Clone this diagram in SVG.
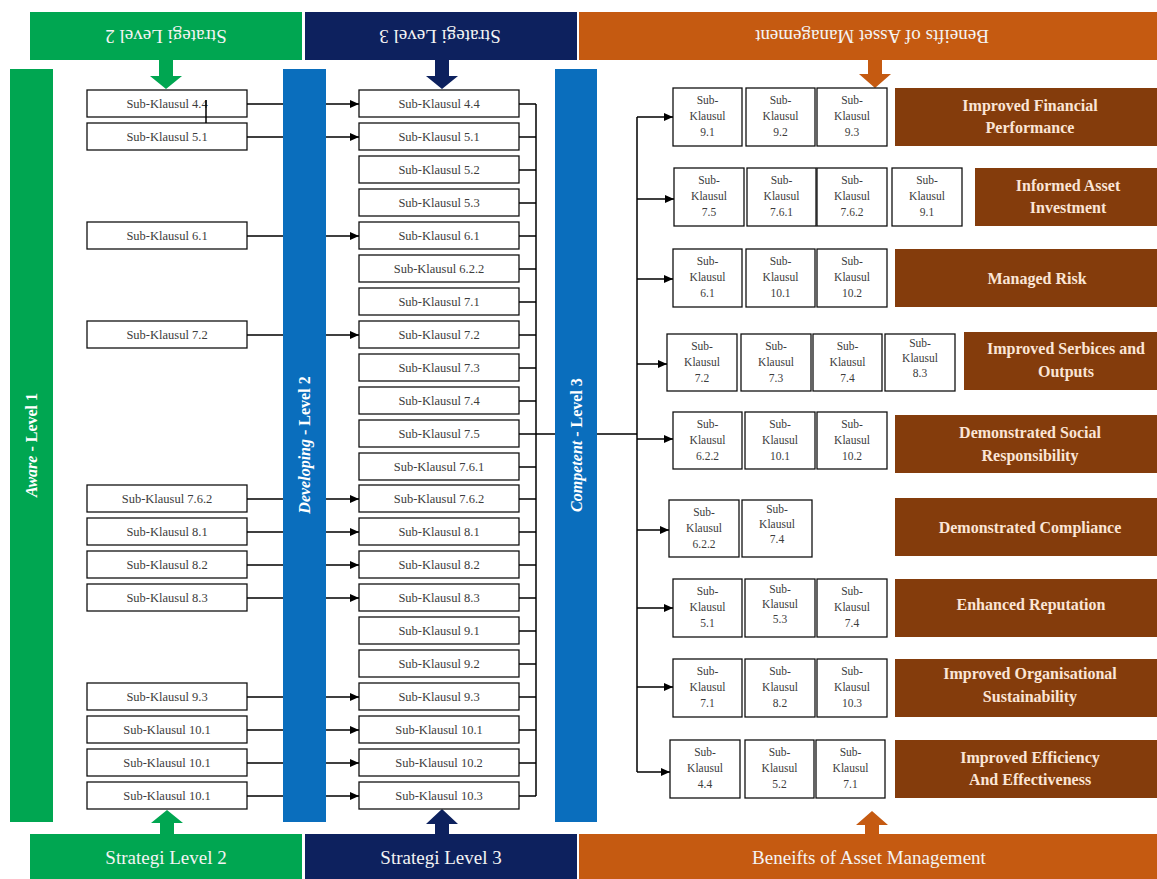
<svg xmlns="http://www.w3.org/2000/svg" width="1157" height="879" viewBox="0 0 1157 879">
  <defs>
    <style>
      .box{fill:#fff;stroke:#111;stroke-width:1.3}
      .bt{font-family:"Liberation Serif","Times New Roman",serif;font-size:12.5px;fill:#3c3c3c;text-anchor:middle}
      .st{font-family:"Liberation Serif","Times New Roman",serif;font-size:11.5px;fill:#3c3c3c;text-anchor:middle}
      .bar{font-family:"Liberation Serif","Times New Roman",serif;font-size:16px;font-weight:bold;fill:#fff;text-anchor:middle}
      .hd{font-family:"Liberation Serif","Times New Roman",serif;font-size:19px;fill:#f4f4f4;text-anchor:middle}
      .bn{fill:#843c0c}
      .bnt{font-family:"Liberation Serif","Times New Roman",serif;font-size:16px;font-weight:bold;fill:#fbe5d6;text-anchor:middle}
      .ln{stroke:#000;stroke-width:1.5;fill:none}
      .arr{stroke:#000;stroke-width:1.5;fill:none;marker-end:url(#ah)}
    </style>
    <marker id="ah" markerWidth="9" markerHeight="8" refX="9" refY="4" orient="auto" markerUnits="userSpaceOnUse">
      <path d="M0,0 L9,4 L0,8 Z" fill="#000"/>
    </marker>
  </defs>
  <rect width="1157" height="879" fill="#fff"/>

  <!-- top headers (text printed upside down) -->
  <g id="hdr-top-l2">
    <rect x="30" y="12" width="272" height="48" fill="#00a651"/>
    <text class="hd" transform="translate(166,36) rotate(180)" y="6.5">Strategi Level 2</text>
    <path d="M159,60 H173 V76 H182 L166,89 L150,76 H159 Z" fill="#00a651"/>
  </g>
  <g id="hdr-top-l3">
    <rect x="305" y="12" width="272" height="48" fill="#0d215e"/>
    <text class="hd" transform="translate(440,36) rotate(180)" y="6.5">Strategi Level 3</text>
    <path d="M435,60 H449 V76 H458 L442,89 L426,76 H435 Z" fill="#0d215e"/>
  </g>
  <g id="hdr-top-benefit">
    <rect x="579" y="12" width="578" height="48" fill="#c55a11"/>
    <text class="hd" transform="translate(872,36) rotate(180)" y="6.5">Beneifts of Asset Management</text>
    <path d="M868,60 H882 V74 H891 L875,88 L859,74 H868 Z" fill="#c55a11"/>
  </g>

  <!-- bottom headers -->
  <g id="hdr-bot-l2">
    <rect x="30" y="834" width="272" height="45" fill="#00a651"/>
    <text class="hd" x="166" y="864">Strategi Level 2</text>
    <path d="M160,835 V823 H151 L167,810 L183,823 H174 V835 Z" fill="#00a651"/>
  </g>
  <g id="hdr-bot-l3">
    <rect x="305" y="834" width="272" height="45" fill="#0d215e"/>
    <text class="hd" x="441" y="864">Strategi Level 3</text>
    <path d="M435,835 V824 H426 L442,809 L458,824 H449 V835 Z" fill="#0d215e"/>
  </g>
  <g id="hdr-bot-benefit">
    <rect x="579" y="834" width="578" height="45" fill="#c55a11"/>
    <text class="hd" x="869" y="864">Beneifts of Asset Management</text>
    <path d="M865,835 V825 H856 L872,811 L888,825 H879 V835 Z" fill="#c55a11"/>
  </g>

  <!-- level bars -->
  <g id="bar-aware">
    <rect x="10" y="69" width="43" height="753" fill="#00a651"/>
    <text class="bar" transform="translate(31.5,445) rotate(-90)" y="5.5"><tspan font-style="italic">Aware</tspan> - Level 1</text>
  </g>
  <g id="bar-developing">
    <rect x="283" y="69" width="43" height="753" fill="#0a6ebd"/>
    <text class="bar" transform="translate(304.5,445) rotate(-90)" y="5.5"><tspan font-style="italic">Developing</tspan> - Level 2</text>
  </g>
  <g id="bar-competent">
    <rect x="555" y="69" width="42" height="753" fill="#0a6ebd"/>
    <text class="bar" transform="translate(576,445) rotate(-90)" y="5.5"><tspan font-style="italic">Competent</tspan> - Level 3</text>
  </g>

  <!-- level 2 clauses -->
  <g id="l2-4-4"><rect class="box" x="87" y="90" width="160" height="27"/><text class="bt" x="167" y="108">Sub-Klausul 4.4</text></g>
  <g id="l2-5-1"><rect class="box" x="87" y="123" width="160" height="27"/><text class="bt" x="167" y="141">Sub-Klausul 5.1</text></g>
  <g id="l2-6-1"><rect class="box" x="87" y="222" width="160" height="27"/><text class="bt" x="167" y="240">Sub-Klausul 6.1</text></g>
  <g id="l2-7-2"><rect class="box" x="87" y="321" width="160" height="27"/><text class="bt" x="167" y="339">Sub-Klausul 7.2</text></g>
  <g id="l2-7-6-2"><rect class="box" x="87" y="485" width="160" height="27"/><text class="bt" x="167" y="503">Sub-Klausul 7.6.2</text></g>
  <g id="l2-8-1"><rect class="box" x="87" y="518" width="160" height="27"/><text class="bt" x="167" y="536">Sub-Klausul 8.1</text></g>
  <g id="l2-8-2"><rect class="box" x="87" y="551" width="160" height="27"/><text class="bt" x="167" y="569">Sub-Klausul 8.2</text></g>
  <g id="l2-8-3"><rect class="box" x="87" y="584" width="160" height="27"/><text class="bt" x="167" y="602">Sub-Klausul 8.3</text></g>
  <g id="l2-9-3"><rect class="box" x="87" y="683" width="160" height="27"/><text class="bt" x="167" y="701">Sub-Klausul 9.3</text></g>
  <g id="l2-10-1a"><rect class="box" x="87" y="716" width="160" height="27"/><text class="bt" x="167" y="734">Sub-Klausul 10.1</text></g>
  <g id="l2-10-1b"><rect class="box" x="87" y="749" width="160" height="27"/><text class="bt" x="167" y="767">Sub-Klausul 10.1</text></g>
  <g id="l2-10-1c"><rect class="box" x="87" y="782" width="160" height="27"/><text class="bt" x="167" y="800">Sub-Klausul 10.1</text></g>

  <!-- level 3 clauses -->
  <g id="l3-4-4"><rect class="box" x="359" y="90" width="160" height="27"/><text class="bt" x="439" y="108">Sub-Klausul 4.4</text></g>
  <g id="l3-5-1"><rect class="box" x="359" y="123" width="160" height="27"/><text class="bt" x="439" y="141">Sub-Klausul 5.1</text></g>
  <g id="l3-5-2"><rect class="box" x="359" y="156" width="160" height="27"/><text class="bt" x="439" y="174">Sub-Klausul 5.2</text></g>
  <g id="l3-5-3"><rect class="box" x="359" y="189" width="160" height="27"/><text class="bt" x="439" y="207">Sub-Klausul 5.3</text></g>
  <g id="l3-6-1"><rect class="box" x="359" y="222" width="160" height="27"/><text class="bt" x="439" y="240">Sub-Klausul 6.1</text></g>
  <g id="l3-6-2-2"><rect class="box" x="359" y="255" width="160" height="27"/><text class="bt" x="439" y="273">Sub-Klausul 6.2.2</text></g>
  <g id="l3-7-1"><rect class="box" x="359" y="288" width="160" height="27"/><text class="bt" x="439" y="306">Sub-Klausul 7.1</text></g>
  <g id="l3-7-2"><rect class="box" x="359" y="321" width="160" height="27"/><text class="bt" x="439" y="339">Sub-Klausul 7.2</text></g>
  <g id="l3-7-3"><rect class="box" x="359" y="354" width="160" height="27"/><text class="bt" x="439" y="372">Sub-Klausul 7.3</text></g>
  <g id="l3-7-4"><rect class="box" x="359" y="387" width="160" height="27"/><text class="bt" x="439" y="405">Sub-Klausul 7.4</text></g>
  <g id="l3-7-5"><rect class="box" x="359" y="420" width="160" height="27"/><text class="bt" x="439" y="438">Sub-Klausul 7.5</text></g>
  <g id="l3-7-6-1"><rect class="box" x="359" y="453" width="160" height="27"/><text class="bt" x="439" y="471">Sub-Klausul 7.6.1</text></g>
  <g id="l3-7-6-2"><rect class="box" x="359" y="485" width="160" height="27"/><text class="bt" x="439" y="503">Sub-Klausul 7.6.2</text></g>
  <g id="l3-8-1"><rect class="box" x="359" y="518" width="160" height="27"/><text class="bt" x="439" y="536">Sub-Klausul 8.1</text></g>
  <g id="l3-8-2"><rect class="box" x="359" y="551" width="160" height="27"/><text class="bt" x="439" y="569">Sub-Klausul 8.2</text></g>
  <g id="l3-8-3"><rect class="box" x="359" y="584" width="160" height="27"/><text class="bt" x="439" y="602">Sub-Klausul 8.3</text></g>
  <g id="l3-9-1"><rect class="box" x="359" y="617" width="160" height="27"/><text class="bt" x="439" y="635">Sub-Klausul 9.1</text></g>
  <g id="l3-9-2"><rect class="box" x="359" y="650" width="160" height="27"/><text class="bt" x="439" y="668">Sub-Klausul 9.2</text></g>
  <g id="l3-9-3"><rect class="box" x="359" y="683" width="160" height="27"/><text class="bt" x="439" y="701">Sub-Klausul 9.3</text></g>
  <g id="l3-10-1"><rect class="box" x="359" y="716" width="160" height="27"/><text class="bt" x="439" y="734">Sub-Klausul 10.1</text></g>
  <g id="l3-10-2"><rect class="box" x="359" y="749" width="160" height="27"/><text class="bt" x="439" y="767">Sub-Klausul 10.2</text></g>
  <g id="l3-10-3"><rect class="box" x="359" y="782" width="160" height="27"/><text class="bt" x="439" y="800">Sub-Klausul 10.3</text></g>

  <!-- benefit rows: clause chips + benefit label -->
  <g id="ben-financial">
    <rect class="box" x="673" y="88" width="69" height="58"/><text class="st" x="707.5" y="104">Sub-</text><text class="st" x="707.5" y="120">Klausul</text><text class="st" x="707.5" y="136">9.1</text>
    <rect class="box" x="746" y="88" width="69" height="58"/><text class="st" x="780.5" y="104">Sub-</text><text class="st" x="780.5" y="120">Klausul</text><text class="st" x="780.5" y="136">9.2</text>
    <rect class="box" x="817" y="88" width="70" height="58"/><text class="st" x="852" y="104">Sub-</text><text class="st" x="852" y="120">Klausul</text><text class="st" x="852" y="136">9.3</text>
    <rect class="bn" x="895" y="88" width="262" height="58"/>
    <text class="bnt" x="1030" y="111">Improved Financial</text><text class="bnt" x="1030" y="133">Performance</text>
  </g>
  <g id="ben-investment">
    <rect class="box" x="674" y="168" width="70" height="58"/><text class="st" x="709" y="184">Sub-</text><text class="st" x="709" y="200">Klausul</text><text class="st" x="709" y="216">7.5</text>
    <rect class="box" x="747" y="168" width="69" height="58"/><text class="st" x="781.5" y="184">Sub-</text><text class="st" x="781.5" y="200">Klausul</text><text class="st" x="781.5" y="216">7.6.1</text>
    <rect class="box" x="817" y="168" width="70" height="58"/><text class="st" x="852" y="184">Sub-</text><text class="st" x="852" y="200">Klausul</text><text class="st" x="852" y="216">7.6.2</text>
    <rect class="box" x="892" y="168" width="70" height="58"/><text class="st" x="927" y="184">Sub-</text><text class="st" x="927" y="200">Klausul</text><text class="st" x="927" y="216">9.1</text>
    <rect class="bn" x="975" y="168" width="182" height="58"/>
    <text class="bnt" x="1068" y="191">Informed Asset</text><text class="bnt" x="1068" y="213">Investment</text>
  </g>
  <g id="ben-risk">
    <rect class="box" x="673" y="249" width="69" height="58"/><text class="st" x="707.5" y="265">Sub-</text><text class="st" x="707.5" y="281">Klausul</text><text class="st" x="707.5" y="297">6.1</text>
    <rect class="box" x="746" y="249" width="69" height="58"/><text class="st" x="780.5" y="265">Sub-</text><text class="st" x="780.5" y="281">Klausul</text><text class="st" x="780.5" y="297">10.1</text>
    <rect class="box" x="817" y="249" width="70" height="58"/><text class="st" x="852" y="265">Sub-</text><text class="st" x="852" y="281">Klausul</text><text class="st" x="852" y="297">10.2</text>
    <rect class="bn" x="895" y="249" width="262" height="58"/>
    <text class="bnt" x="1037" y="284">Managed Risk</text>
  </g>
  <g id="ben-services">
    <rect class="box" x="667" y="334" width="70" height="57"/><text class="st" x="702" y="350">Sub-</text><text class="st" x="702" y="366">Klausul</text><text class="st" x="702" y="382">7.2</text>
    <rect class="box" x="741" y="334" width="70" height="57"/><text class="st" x="776" y="350">Sub-</text><text class="st" x="776" y="366">Klausul</text><text class="st" x="776" y="382">7.3</text>
    <rect class="box" x="813" y="334" width="69" height="57"/><text class="st" x="847.5" y="350">Sub-</text><text class="st" x="847.5" y="366">Klausul</text><text class="st" x="847.5" y="382">7.4</text>
    <rect class="box" x="885" y="334" width="70" height="57"/><text class="st" x="920" y="347">Sub-</text><text class="st" x="920" y="362">Klausul</text><text class="st" x="920" y="377">8.3</text>
    <rect class="bn" x="964" y="332" width="193" height="58"/>
    <text class="bnt" x="1066" y="354">Improved Serbices and</text><text class="bnt" x="1066" y="377">Outputs</text>
  </g>
  <g id="ben-social">
    <rect class="box" x="673" y="412" width="69" height="57"/><text class="st" x="707.5" y="428">Sub-</text><text class="st" x="707.5" y="444">Klausul</text><text class="st" x="707.5" y="460">6.2.2</text>
    <rect class="box" x="745" y="412" width="70" height="57"/><text class="st" x="780" y="428">Sub-</text><text class="st" x="780" y="444">Klausul</text><text class="st" x="780" y="460">10.1</text>
    <rect class="box" x="817" y="412" width="70" height="57"/><text class="st" x="852" y="428">Sub-</text><text class="st" x="852" y="444">Klausul</text><text class="st" x="852" y="460">10.2</text>
    <rect class="bn" x="895" y="415" width="262" height="58"/>
    <text class="bnt" x="1030" y="438">Demonstrated Social</text><text class="bnt" x="1030" y="461">Responsibility</text>
  </g>
  <g id="ben-compliance">
    <rect class="box" x="669" y="500" width="70" height="57"/><text class="st" x="704" y="516">Sub-</text><text class="st" x="704" y="532">Klausul</text><text class="st" x="704" y="548">6.2.2</text>
    <rect class="box" x="742" y="500" width="70" height="57"/><text class="st" x="777" y="513">Sub-</text><text class="st" x="777" y="528">Klausul</text><text class="st" x="777" y="543">7.4</text>
    <rect class="bn" x="895" y="498" width="262" height="58"/>
    <text class="bnt" x="1030" y="533">Demonstrated Compliance</text>
  </g>
  <g id="ben-reputation">
    <rect class="box" x="673" y="579" width="69" height="58"/><text class="st" x="707.5" y="595">Sub-</text><text class="st" x="707.5" y="611">Klausul</text><text class="st" x="707.5" y="627">5.1</text>
    <rect class="box" x="745" y="579" width="70" height="58"/><text class="st" x="780" y="593">Sub-</text><text class="st" x="780" y="608">Klausul</text><text class="st" x="780" y="623">5.3</text>
    <rect class="box" x="817" y="579" width="70" height="58"/><text class="st" x="852" y="595">Sub-</text><text class="st" x="852" y="611">Klausul</text><text class="st" x="852" y="627">7.4</text>
    <rect class="bn" x="895" y="579" width="262" height="58"/>
    <text class="bnt" x="1031" y="610">Enhanced Reputation</text>
  </g>
  <g id="ben-sustainability">
    <rect class="box" x="673" y="659" width="69" height="58"/><text class="st" x="707.5" y="675">Sub-</text><text class="st" x="707.5" y="691">Klausul</text><text class="st" x="707.5" y="707">7.1</text>
    <rect class="box" x="745" y="659" width="70" height="58"/><text class="st" x="780" y="675">Sub-</text><text class="st" x="780" y="691">Klausul</text><text class="st" x="780" y="707">8.2</text>
    <rect class="box" x="817" y="659" width="70" height="58"/><text class="st" x="852" y="675">Sub-</text><text class="st" x="852" y="691">Klausul</text><text class="st" x="852" y="707">10.3</text>
    <rect class="bn" x="895" y="659" width="262" height="58"/>
    <text class="bnt" x="1030" y="679">Improved Organisational</text><text class="bnt" x="1030" y="702">Sustainability</text>
  </g>
  <g id="ben-efficiency">
    <rect class="box" x="670" y="740" width="70" height="58"/><text class="st" x="705" y="756">Sub-</text><text class="st" x="705" y="772">Klausul</text><text class="st" x="705" y="788">4.4</text>
    <rect class="box" x="745" y="740" width="69" height="58"/><text class="st" x="779.5" y="756">Sub-</text><text class="st" x="779.5" y="772">Klausul</text><text class="st" x="779.5" y="788">5.2</text>
    <rect class="box" x="816" y="740" width="69" height="58"/><text class="st" x="850.5" y="756">Sub-</text><text class="st" x="850.5" y="772">Klausul</text><text class="st" x="850.5" y="788">7.1</text>
    <rect class="bn" x="895" y="740" width="262" height="58"/>
    <text class="bnt" x="1030" y="763">Improved Efficiency</text><text class="bnt" x="1030" y="785">And Effectiveness</text>
  </g>

  <!-- connectors -->
  <g id="connectors">
    <!-- level 2 clauses into the Developing bar, then on to level 3 -->
    <path class="ln" d="M247,104 H283 M247,137 H283 M247,236 H283 M247,335 H283 M247,499 H283 M247,532 H283 M247,565 H283 M247,598 H283 M247,697 H283 M247,730 H283 M247,763 H283 M247,796 H283"/>
    <path class="ln" d="M206,100 V123"/>
    <line class="arr" x1="326" y1="104" x2="359" y2="104"/>
    <line class="arr" x1="326" y1="137" x2="359" y2="137"/>
    <line class="arr" x1="326" y1="236" x2="359" y2="236"/>
    <line class="arr" x1="326" y1="335" x2="359" y2="335"/>
    <line class="arr" x1="326" y1="499" x2="359" y2="499"/>
    <line class="arr" x1="326" y1="532" x2="359" y2="532"/>
    <line class="arr" x1="326" y1="565" x2="359" y2="565"/>
    <line class="arr" x1="326" y1="598" x2="359" y2="598"/>
    <line class="arr" x1="326" y1="697" x2="359" y2="697"/>
    <line class="arr" x1="326" y1="730" x2="359" y2="730"/>
    <line class="arr" x1="326" y1="763" x2="359" y2="763"/>
    <line class="arr" x1="326" y1="796" x2="359" y2="796"/>
    <!-- level 3 bus into the Competent bar -->
    <path class="ln" d="M519,104 H536 M519,137 H536 M519,170 H536 M519,203 H536 M519,236 H536 M519,269 H536 M519,302 H536 M519,335 H536 M519,368 H536 M519,401 H536 M519,434 H536 M519,467 H536 M519,499 H536 M519,532 H536 M519,565 H536 M519,598 H536 M519,631 H536 M519,664 H536 M519,697 H536 M519,730 H536 M519,763 H536 M519,796 H536"/>
    <path class="ln" d="M536,104 V796 M536,434 H555"/>
    <!-- Competent bar out to the benefit rows -->
    <path class="ln" d="M597,434 H637 M637,117 V772"/>
    <line class="arr" x1="637" y1="117" x2="673" y2="117"/>
    <line class="arr" x1="637" y1="199" x2="674" y2="199"/>
    <line class="arr" x1="637" y1="279" x2="673" y2="279"/>
    <line class="arr" x1="637" y1="364" x2="667" y2="364"/>
    <line class="arr" x1="637" y1="439" x2="673" y2="439"/>
    <line class="arr" x1="637" y1="530" x2="669" y2="530"/>
    <line class="arr" x1="637" y1="608" x2="673" y2="608"/>
    <line class="arr" x1="637" y1="687" x2="673" y2="687"/>
    <line class="arr" x1="637" y1="772" x2="670" y2="772"/>
  </g>
</svg>
